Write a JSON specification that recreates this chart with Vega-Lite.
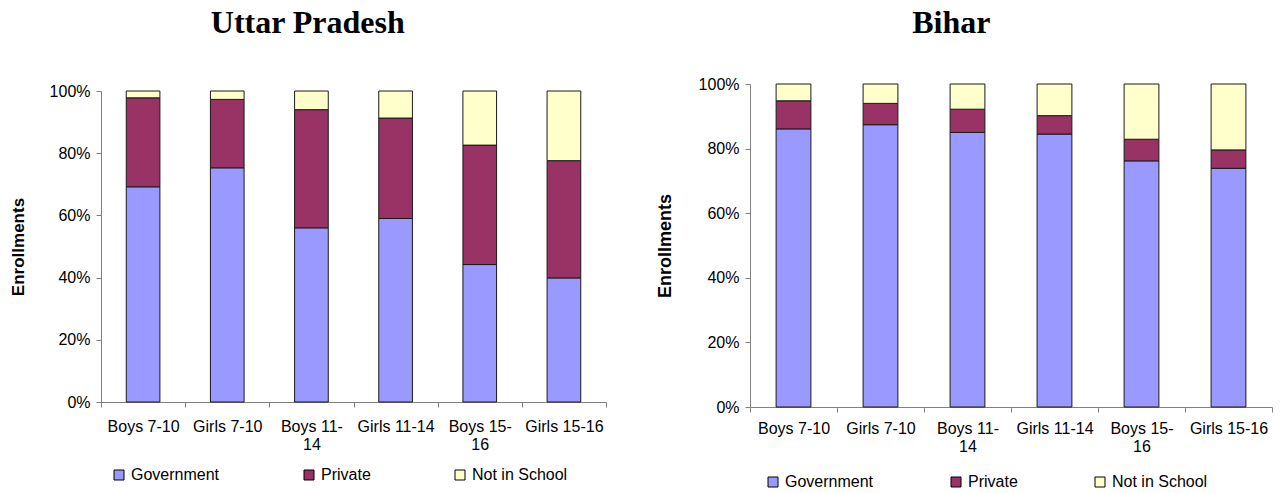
{
  "$schema": "https://vega.github.io/schema/vega-lite/v6.json",
  "background": "white",
  "padding": {"left": 9, "top": 7, "right": 5, "bottom": 5},
  "spacing": 49,
  "data": {
    "values": [
      {"state": "Uttar Pradesh", "group": "Boys 7-10", "type": "Government", "k": 1, "pct": 69.2},
      {"state": "Uttar Pradesh", "group": "Boys 7-10", "type": "Private", "k": 2, "pct": 28.6},
      {"state": "Uttar Pradesh", "group": "Boys 7-10", "type": "Not in School", "k": 3, "pct": 2.2},
      {"state": "Uttar Pradesh", "group": "Girls 7-10", "type": "Government", "k": 1, "pct": 75.3},
      {"state": "Uttar Pradesh", "group": "Girls 7-10", "type": "Private", "k": 2, "pct": 22.0},
      {"state": "Uttar Pradesh", "group": "Girls 7-10", "type": "Not in School", "k": 3, "pct": 2.7},
      {"state": "Uttar Pradesh", "group": "Boys 11-14", "type": "Government", "k": 1, "pct": 56.0},
      {"state": "Uttar Pradesh", "group": "Boys 11-14", "type": "Private", "k": 2, "pct": 38.0},
      {"state": "Uttar Pradesh", "group": "Boys 11-14", "type": "Not in School", "k": 3, "pct": 6.0},
      {"state": "Uttar Pradesh", "group": "Girls 11-14", "type": "Government", "k": 1, "pct": 59.0},
      {"state": "Uttar Pradesh", "group": "Girls 11-14", "type": "Private", "k": 2, "pct": 32.3},
      {"state": "Uttar Pradesh", "group": "Girls 11-14", "type": "Not in School", "k": 3, "pct": 8.7},
      {"state": "Uttar Pradesh", "group": "Boys 15-16", "type": "Government", "k": 1, "pct": 44.2},
      {"state": "Uttar Pradesh", "group": "Boys 15-16", "type": "Private", "k": 2, "pct": 38.4},
      {"state": "Uttar Pradesh", "group": "Boys 15-16", "type": "Not in School", "k": 3, "pct": 17.4},
      {"state": "Uttar Pradesh", "group": "Girls 15-16", "type": "Government", "k": 1, "pct": 39.9},
      {"state": "Uttar Pradesh", "group": "Girls 15-16", "type": "Private", "k": 2, "pct": 37.7},
      {"state": "Uttar Pradesh", "group": "Girls 15-16", "type": "Not in School", "k": 3, "pct": 22.4},
      {"state": "Bihar", "group": "Boys 7-10", "type": "Government", "k": 1, "pct": 86.1},
      {"state": "Bihar", "group": "Boys 7-10", "type": "Private", "k": 2, "pct": 8.7},
      {"state": "Bihar", "group": "Boys 7-10", "type": "Not in School", "k": 3, "pct": 5.2},
      {"state": "Bihar", "group": "Girls 7-10", "type": "Government", "k": 1, "pct": 87.4},
      {"state": "Bihar", "group": "Girls 7-10", "type": "Private", "k": 2, "pct": 6.6},
      {"state": "Bihar", "group": "Girls 7-10", "type": "Not in School", "k": 3, "pct": 6.0},
      {"state": "Bihar", "group": "Boys 11-14", "type": "Government", "k": 1, "pct": 85.0},
      {"state": "Bihar", "group": "Boys 11-14", "type": "Private", "k": 2, "pct": 7.2},
      {"state": "Bihar", "group": "Boys 11-14", "type": "Not in School", "k": 3, "pct": 7.8},
      {"state": "Bihar", "group": "Girls 11-14", "type": "Government", "k": 1, "pct": 84.5},
      {"state": "Bihar", "group": "Girls 11-14", "type": "Private", "k": 2, "pct": 5.7},
      {"state": "Bihar", "group": "Girls 11-14", "type": "Not in School", "k": 3, "pct": 9.8},
      {"state": "Bihar", "group": "Boys 15-16", "type": "Government", "k": 1, "pct": 76.2},
      {"state": "Bihar", "group": "Boys 15-16", "type": "Private", "k": 2, "pct": 6.7},
      {"state": "Bihar", "group": "Boys 15-16", "type": "Not in School", "k": 3, "pct": 17.1},
      {"state": "Bihar", "group": "Girls 15-16", "type": "Government", "k": 1, "pct": 73.9},
      {"state": "Bihar", "group": "Girls 15-16", "type": "Private", "k": 2, "pct": 5.7},
      {"state": "Bihar", "group": "Girls 15-16", "type": "Not in School", "k": 3, "pct": 20.4}
    ]
  },
  "resolve": {
    "scale": {"color": "independent", "x": "independent", "y": "independent"},
    "legend": {"color": "independent"}
  },
  "config": {
    "view": {"stroke": null},
    "axis": {
      "labelFont": "Liberation Sans",
      "labelFontSize": 16,
      "labelColor": "#000",
      "domainColor": "#808080",
      "tickColor": "#808080",
      "tickSize": 5,
      "titleFont": "Liberation Sans",
      "titleFontSize": 17,
      "titleFontWeight": "bold",
      "titleColor": "#000",
      "grid": false
    },
    "legend": {
      "labelFont": "Liberation Sans",
      "labelFontSize": 16,
      "labelColor": "#000",
      "symbolType": "square",
      "symbolSize": 100,
      "symbolStrokeColor": "#000",
      "symbolStrokeWidth": 1,
      "labelOffset": 4,
      "padding": 0
    },
    "title": {
      "font": "Liberation Serif",
      "fontSize": 32,
      "fontWeight": "bold",
      "color": "#000",
      "frame": "bounds",
      "anchor": "middle"
    }
  },
  "hconcat": [
    {
      "title": {"text": "Uttar Pradesh", "offset": 43},
      "width": 505,
      "height": 318,
      "transform": [{"filter": "datum.state == 'Uttar Pradesh'"}],
      "mark": {"type": "bar", "width": {"band": 0.4}, "stroke": "#1a1a1a", "strokeWidth": 1},
      "encoding": {
        "x": {
          "field": "group",
          "type": "nominal",
          "sort": ["Boys 7-10", "Girls 7-10", "Boys 11-14", "Girls 11-14", "Boys 15-16", "Girls 15-16"],
          "scale": {"paddingInner": 0, "paddingOuter": 0},
          "axis": {
            "title": null,
            "labelAngle": 0,
            "tickBand": "extent",
            "labelPadding": 11,
            "labelLineHeight": 18,
            "labelOverlap": false,
            "labelExpr": "datum.value == 'Boys 11-14' ? ['Boys 11-', '14'] : datum.value == 'Boys 15-16' ? ['Boys 15-', '16'] : datum.value"
          }
        },
        "y": {
          "field": "pct",
          "type": "quantitative",
          "stack": "zero",
          "scale": {"domain": [0, 100], "nice": false, "range": [318, 7]},
          "axis": {
            "title": "Enrollments",
            "values": [0, 20, 40, 60, 80, 100],
            "labelExpr": "datum.value + '%'",
            "labelPadding": 6,
            "titlePadding": 22
          }
        },
        "color": {
          "field": "type",
          "type": "nominal",
          "scale": {"domain": ["Government", "Private", "Not in School"], "range": ["#9999FF", "#993366", "#FFFFCC"]},
          "legend": {"title": null, "orient": "none", "direction": "horizontal", "legendX": 10, "legendY": 383, "columnPadding": 81}
        },
        "order": {"field": "k", "type": "quantitative", "sort": "ascending"}
      }
    },
    {
      "title": {"text": "Bihar", "offset": 36, "dx": -13},
      "width": 522,
      "height": 323,
      "transform": [{"filter": "datum.state == 'Bihar'"}],
      "mark": {"type": "bar", "width": {"band": 0.4}, "stroke": "#1a1a1a", "strokeWidth": 1},
      "encoding": {
        "x": {
          "field": "group",
          "type": "nominal",
          "sort": ["Boys 7-10", "Girls 7-10", "Boys 11-14", "Girls 11-14", "Boys 15-16", "Girls 15-16"],
          "scale": {"paddingInner": 0, "paddingOuter": 0},
          "axis": {
            "title": null,
            "labelAngle": 0,
            "tickBand": "extent",
            "labelPadding": 8,
            "labelLineHeight": 18,
            "labelOverlap": false,
            "labelExpr": "datum.value == 'Boys 11-14' ? ['Boys 11-', '14'] : datum.value == 'Boys 15-16' ? ['Boys 15-', '16'] : datum.value"
          }
        },
        "y": {
          "field": "pct",
          "type": "quantitative",
          "stack": "zero",
          "scale": {"domain": [0, 100], "nice": false},
          "axis": {
            "title": "Enrollments",
            "titleFontSize": 18,
            "values": [0, 20, 40, 60, 80, 100],
            "labelExpr": "datum.value + '%'",
            "labelPadding": 6,
            "titlePadding": 24
          }
        },
        "color": {
          "field": "type",
          "type": "nominal",
          "scale": {"domain": ["Government", "Private", "Not in School"], "range": ["#9999FF", "#993366", "#FFFFCC"]},
          "legend": {"title": null, "orient": "none", "direction": "horizontal", "legendX": 15, "legendY": 390, "columnPadding": 74}
        },
        "order": {"field": "k", "type": "quantitative", "sort": "ascending"}
      }
    }
  ]
}
